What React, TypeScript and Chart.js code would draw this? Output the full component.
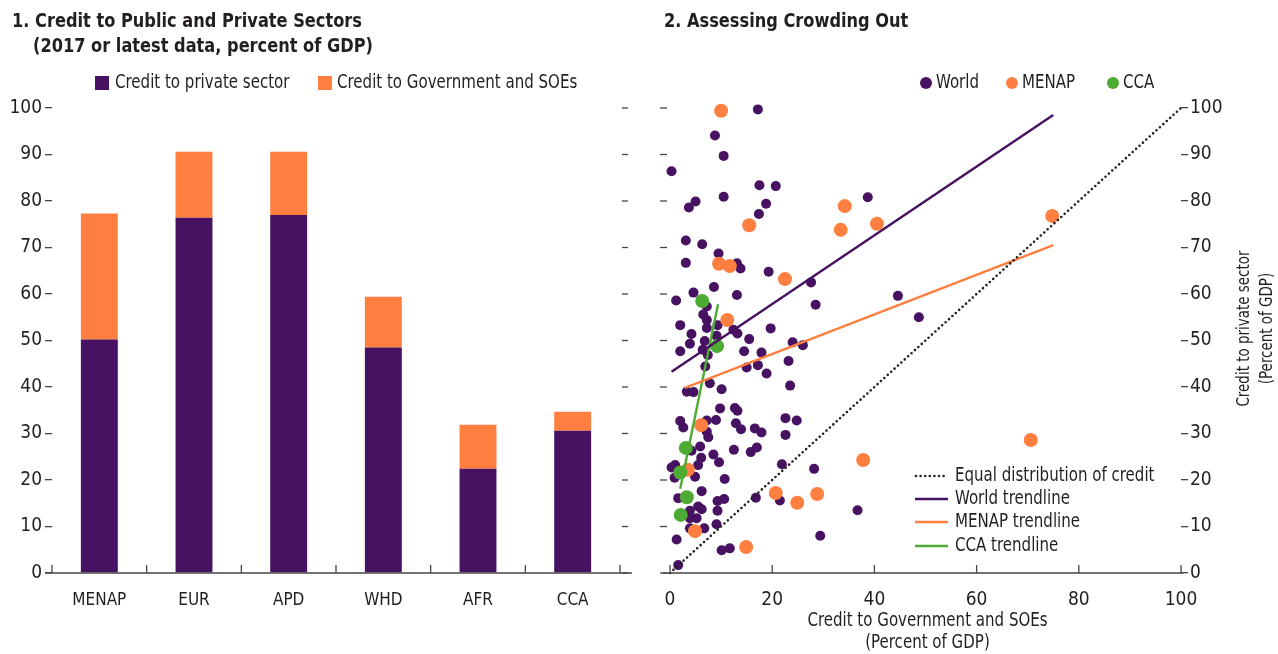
import React, { useEffect, useRef } from "react";
import { Chart, registerables } from "chart.js";

Chart.register(...registerables);

const FONT = "'Liberation Sans Narrow', 'Arial Narrow', 'DejaVu Sans Condensed', sans-serif";
const PURPLE = "#461261";
const ORANGE = "#FF7F41";
const GREEN = "#4DAA32";
const INK = "#231F20";

// ---- Panel 1 data ----
const regions = ["MENAP", "EUR", "APD", "WHD", "AFR", "CCA"];
const privateCredit = [50.2, 76.4, 77.0, 48.5, 22.4, 30.6];
const govCredit = [27.1, 14.2, 13.6, 10.9, 9.5, 4.1];

// ---- Panel 2 data: [credit to government & SOEs, credit to private sector] ----
const worldPoints: [number, number][] = [
  [17.2, 99.7], [8.8, 94.1], [10.5, 89.7], [0.3, 86.4], [17.5, 83.4], [20.7, 83.2],
  [5.0, 79.9], [3.7, 78.6], [10.5, 80.9], [18.8, 79.4], [17.4, 77.2], [3.1, 71.5],
  [6.3, 70.7], [9.5, 68.7], [3.1, 66.7], [13.1, 66.6], [13.8, 65.5], [19.3, 64.8],
  [27.6, 62.5], [8.6, 61.5], [4.6, 60.3], [1.2, 58.6], [13.1, 59.8], [28.5, 57.7],
  [7.2, 57.3], [6.5, 55.6], [7.2, 54.4], [2.0, 53.3], [7.2, 52.7], [9.3, 53.3],
  [19.7, 52.6], [12.4, 52.3], [13.2, 51.5], [4.2, 51.4], [9.1, 51.0], [15.5, 50.3],
  [3.9, 49.3], [6.8, 49.9], [2.0, 47.7], [6.4, 48.0], [7.4, 46.9], [14.5, 47.7],
  [17.9, 47.4], [24.0, 49.6], [26.0, 49.0], [15.0, 44.2], [17.2, 44.7], [18.9, 42.9],
  [23.2, 45.6], [6.9, 44.4], [23.5, 40.3], [7.8, 40.8], [3.3, 39.0], [4.6, 38.9],
  [10.1, 39.5], [9.8, 35.4], [12.7, 35.5], [13.2, 34.9], [22.6, 33.3], [24.8, 32.8],
  [2.0, 32.7], [7.2, 32.8], [9.0, 32.9], [12.9, 32.2], [38.7, 80.8], [44.6, 59.6],
  [48.7, 55.0], [2.6, 31.3], [13.9, 30.9], [16.6, 31.1], [17.9, 30.2], [22.6, 29.7],
  [7.2, 30.4], [7.5, 29.2], [5.9, 27.2], [4.2, 26.3], [12.5, 26.5], [8.5, 25.5],
  [17.0, 27.0], [15.8, 26.0], [6.1, 24.8], [9.6, 23.8], [1.0, 23.2], [0.3, 22.7],
  [5.5, 23.2], [21.9, 23.4], [0.9, 20.5], [4.9, 20.7], [10.7, 20.2], [28.2, 22.4],
  [1.6, 16.1], [6.2, 17.6], [9.3, 15.5], [10.6, 15.9], [16.8, 16.2], [21.5, 15.6],
  [3.9, 13.4], [5.5, 14.3], [6.2, 13.7], [9.3, 13.4], [3.9, 11.8], [5.2, 11.8],
  [9.1, 10.5], [3.9, 9.6], [6.7, 9.6], [1.3, 7.2], [10.1, 4.9], [11.7, 5.3],
  [29.4, 8.0], [36.7, 13.5], [1.6, 1.7],
];
const menapPoints: [number, number][] = [
  [10.0, 99.4], [15.5, 74.8], [9.6, 66.5], [11.7, 66.0], [22.5, 63.2], [11.2, 54.4],
  [6.1, 31.8], [3.5, 22.2], [4.9, 9.0], [14.9, 5.6], [20.7, 17.2], [24.9, 15.1],
  [28.8, 17.0], [37.8, 24.3], [70.6, 28.6], [34.2, 78.9], [33.4, 73.8], [40.5, 75.1],
  [74.8, 76.8],
];
const ccaPoints: [number, number][] = [
  [6.3, 58.5], [9.2, 48.8], [3.1, 26.9], [2.0, 21.6], [3.3, 16.3], [2.1, 12.5],
];
const equalLine: [number, number][] = [[0, 0], [100, 100]];
const worldTrend: [number, number][] = [[0.3, 43.3], [75, 98.5]];
const menapTrend: [number, number][] = [[2.9, 39.8], [75, 70.5]];
const ccaTrend: [number, number][] = [[2.0, 18.1], [9.4, 57.8]];

const toXY = (arr: [number, number][]) => arr.map(([x, y]) => ({ x, y }));

function text(
  ctx: CanvasRenderingContext2D,
  s: string,
  x: number,
  y: number,
  size: number,
  opts: { bold?: boolean; align?: CanvasTextAlign; color?: string; rotate?: number } = {}
) {
  ctx.save();
  ctx.font = `${opts.bold ? "bold " : ""}${size}px ${FONT}`;
  ctx.fillStyle = opts.color || INK;
  ctx.textAlign = opts.align || "left";
  ctx.textBaseline = "middle";
  ctx.translate(x, y);
  if (opts.rotate) ctx.rotate(opts.rotate);
  ctx.scale(opts.bold ? 0.9 : 0.88, 1);
  ctx.fillText(s, 0, 0);
  ctx.restore();
}

function line(ctx: CanvasRenderingContext2D, x1: number, y1: number, x2: number, y2: number, color: string, w: number) {
  ctx.save();
  ctx.strokeStyle = color;
  ctx.lineWidth = w;
  ctx.beginPath();
  ctx.moveTo(x1, y1);
  ctx.lineTo(x2, y2);
  ctx.stroke();
  ctx.restore();
}

const barDecor = {
  id: "barDecor",
  afterDraw(chart: any) {
    const ctx: CanvasRenderingContext2D = chart.ctx;
    const { left, right, bottom } = chart.chartArea;
    const ys = chart.scales.y;
    text(ctx, "1. Credit to Public and Private Sectors", 12, 22, 20, { bold: true });
    text(ctx, "(2017 or latest data, percent of GDP)", 33, 47, 20, { bold: true });
    ctx.fillStyle = PURPLE;
    ctx.fillRect(95, 76, 14, 14);
    text(ctx, "Credit to private sector", 115, 83, 19);
    ctx.fillStyle = ORANGE;
    ctx.fillRect(318, 76, 14, 14);
    text(ctx, "Credit to Government and SOEs", 337, 83, 19);
    for (let v = 0; v <= 100; v += 10) {
      const py = ys.getPixelForValue(v);
      line(ctx, right + 2, py, right + 8, py, "#444", 1.3);
    }
    line(ctx, left - 7, bottom, right + 12, bottom, "#444", 1.6);
    const n = regions.length;
    const step = (right - left) / n;
    for (let i = 0; i <= n; i++) {
      const px = left + i * step;
      line(ctx, px, bottom, px, bottom - 8, "#444", 1.3);
    }
  },
};

const scatterDecor = {
  id: "scatterDecor",
  afterDraw(chart: any) {
    const ctx: CanvasRenderingContext2D = chart.ctx;
    const { left, right, bottom, top } = chart.chartArea;
    const xs = chart.scales.x;
    const ys = chart.scales.y;
    text(ctx, "2. Assessing Crowding Out", 24, 22, 20, { bold: true });
    const legendItems: [string, string, number][] = [
      ["World", PURPLE, 286],
      ["MENAP", ORANGE, 372],
      ["CCA", GREEN, 473],
    ];
    legendItems.forEach(([label, color, x]) => {
      ctx.save();
      ctx.fillStyle = color;
      ctx.beginPath();
      ctx.arc(x, 83, 6, 0, Math.PI * 2);
      ctx.fill();
      ctx.restore();
      text(ctx, label, x + 10, 83, 19);
    });
    ctx.save();
    ctx.strokeStyle = "#222";
    ctx.lineWidth = 2.6;
    ctx.lineCap = "round";
    ctx.setLineDash([0, 4.6]);
    ctx.beginPath();
    ctx.moveTo(276, 476);
    ctx.lineTo(306, 476);
    ctx.stroke();
    ctx.restore();
    text(ctx, "Equal distribution of credit", 315, 476, 19);
    const lineItems: [string, string, number][] = [
      ["World trendline", PURPLE, 499],
      ["MENAP trendline", ORANGE, 522],
      ["CCA trendline", GREEN, 546],
    ];
    lineItems.forEach(([label, color, y]) => {
      line(ctx, 275, y, 308, y, color, 2.6);
      text(ctx, label, 315, y, 19);
    });
    const cx = (left + right) / 2 + 2;
    text(ctx, "Credit to Government and SOEs", cx, 621, 19, { align: "center" });
    text(ctx, "(Percent of GDP)", cx, 643, 19, { align: "center" });
    const cy = (top + bottom) / 2 - 12;
    text(ctx, "Credit to private sector", 605, cy, 17, { align: "center", rotate: -Math.PI / 2 });
    text(ctx, "(Percent of GDP)", 628, cy, 17, { align: "center", rotate: -Math.PI / 2 });
    line(ctx, left - 7, bottom, right + 2, bottom, "#444", 1.6);
    for (let v = 0; v <= 100; v += 20) {
      const px = xs.getPixelForValue(v);
      line(ctx, px, bottom, px, bottom - 8, "#444", 1.3);
    }
    for (let v = 0; v <= 100; v += 10) {
      const py = ys.getPixelForValue(v);
      line(ctx, left - 10, py, left - 3, py, "#444", 1.3);
    }
  },
};

export default function App() {
  const barRef = useRef<HTMLCanvasElement>(null);
  const scRef = useRef<HTMLCanvasElement>(null);

  useEffect(() => {
    const tickFont = { family: FONT, size: 19 };
    const catFont = { family: FONT, size: 17 };
    const bar = new Chart(barRef.current!, {
      type: "bar",
      data: {
        labels: regions,
        datasets: [
          { label: "Credit to private sector", data: privateCredit, backgroundColor: PURPLE },
          { label: "Credit to Government and SOEs", data: govCredit, backgroundColor: ORANGE },
        ],
      },
      options: {
        responsive: false,
        animation: false,
        devicePixelRatio: 1,
        layout: { padding: { top: 108, right: 20, left: 0, bottom: 0 } },
        datasets: { bar: { categoryPercentage: 1, barPercentage: 0.39 } },
        plugins: { legend: { display: false }, tooltip: { enabled: false }, title: { display: false } },
        scales: {
          x: {
            stacked: true,
            grid: { display: false },
            border: { display: false },
            ticks: { font: catFont, color: INK, padding: 9 },
            afterFit: (s: any) => { s.height = 81; },
          },
          y: {
            stacked: true,
            min: 0,
            max: 100,
            ticks: { stepSize: 10, font: tickFont, color: INK, padding: 3 },
            grid: { display: true, drawOnChartArea: false, drawTicks: true, tickLength: 7, color: "#444", lineWidth: 1.3 },
            border: { display: false },
            afterFit: (s: any) => { s.width = 52; },
          },
        },
      },
      plugins: [barDecor],
    } as any);

    const sc = new Chart(scRef.current!, {
      type: "scatter",
      data: {
        datasets: [
          {
            type: "line", label: "Equal distribution of credit", data: toXY(equalLine),
            borderColor: "#222", borderWidth: 2.6, borderDash: [0, 4.6], borderCapStyle: "round",
            pointRadius: 0, fill: false, order: 0, clip: false,
          },
          { type: "line", label: "World trendline", data: toXY(worldTrend), borderColor: PURPLE, borderWidth: 2.4, pointRadius: 0, fill: false, order: 0 },
          { type: "line", label: "MENAP trendline", data: toXY(menapTrend), borderColor: ORANGE, borderWidth: 2.4, pointRadius: 0, fill: false, order: 0 },
          { type: "line", label: "CCA trendline", data: toXY(ccaTrend), borderColor: GREEN, borderWidth: 2.4, pointRadius: 0, fill: false, order: 0 },
          { label: "World", data: toXY(worldPoints), backgroundColor: PURPLE, borderWidth: 0, pointRadius: 5, order: 3, clip: false },
          { label: "MENAP", data: toXY(menapPoints), backgroundColor: ORANGE, borderWidth: 0, pointRadius: 7, order: 2, clip: false },
          { label: "CCA", data: toXY(ccaPoints), backgroundColor: GREEN, borderWidth: 0, pointRadius: 7, order: 1, clip: false },
        ],
      },
      options: {
        responsive: false,
        animation: false,
        devicePixelRatio: 1,
        layout: { padding: { top: 108, right: 0, left: 30, bottom: 0 } },
        plugins: { legend: { display: false }, tooltip: { enabled: false }, title: { display: false } },
        scales: {
          x: {
            type: "linear",
            min: 0,
            max: 100,
            grid: { display: false },
            border: { display: false },
            ticks: { stepSize: 20, font: tickFont, color: INK, padding: 8 },
            afterFit: (s: any) => { s.height = 81; },
          },
          y: {
            type: "linear",
            position: "right",
            min: 0,
            max: 100,
            ticks: { stepSize: 10, font: tickFont, color: INK, padding: 2 },
            grid: { display: true, drawOnChartArea: false, drawTicks: true, tickLength: 7, color: "#444", lineWidth: 1.3 },
            border: { display: false },
            afterFit: (s: any) => { s.width = 97; },
          },
        },
      },
      plugins: [scatterDecor],
    } as any);

    return () => {
      bar.destroy();
      sc.destroy();
    };
  }, []);

  return (
    <div style={{ position: "fixed", left: 0, top: 0, width: 1278, height: 654, background: "#fff" }}>
      <canvas ref={barRef} width={640} height={654} style={{ position: "absolute", left: 0, top: 0, width: 640, height: 654 }} />
      <canvas ref={scRef} width={638} height={654} style={{ position: "absolute", left: 640, top: 0, width: 638, height: 654 }} />
    </div>
  );
}
